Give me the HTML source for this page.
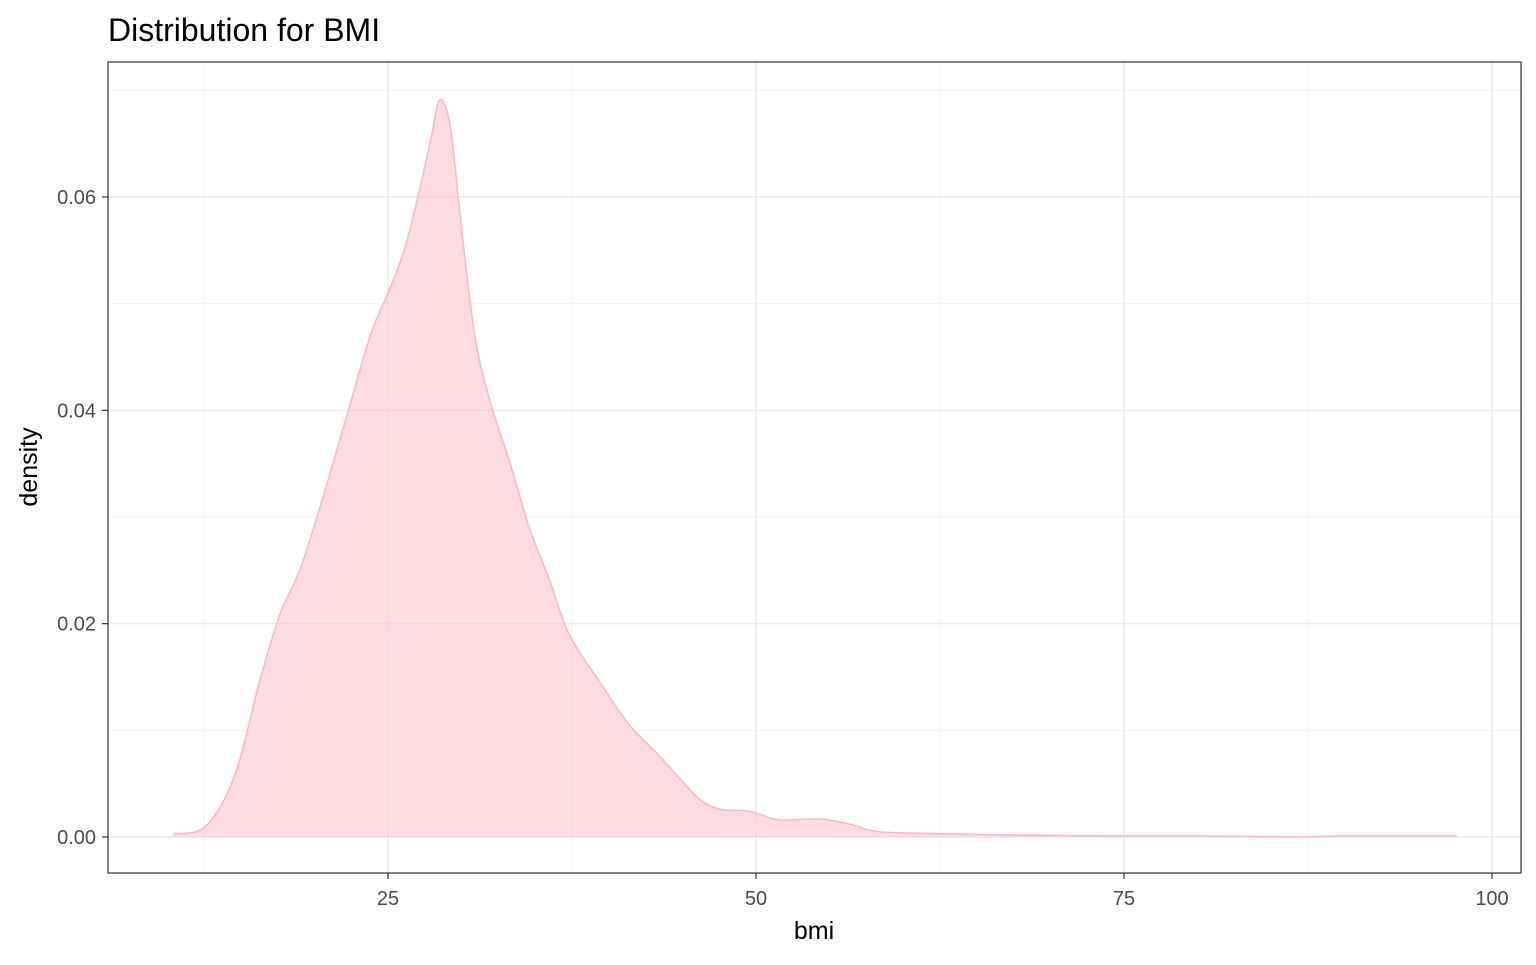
<!DOCTYPE html>
<html><head><meta charset="utf-8"><style>
body{margin:0;background:#fff;}
svg text{font-family:"Liberation Sans",Arial,sans-serif;}
</style></head><body>
<svg id="chart" width="1536" height="960" xmlns="http://www.w3.org/2000/svg">
<text x="108" y="41" font-size="32" fill="#000">Distribution for BMI</text>
<g id="grid"></g>
<path id="area" fill="#FFC0CB" fill-opacity="0.55" stroke="none"/>
<path id="line" fill="none" stroke="#FFB6C1" stroke-width="1.5"/>
<rect x="108" y="62" width="1413" height="811" fill="none" stroke="#333" stroke-width="1.2"/>
<g id="axes"></g>
<text x="814" y="939" font-size="25" text-anchor="middle" fill="#000">bmi</text>
<text transform="translate(37,467) rotate(-90)" font-size="25" text-anchor="middle" fill="#000">density</text>
</svg>
<script>
const bmi=[10.4,12.6,14.6,16.3,17.7,19.0,20.4,22.1,23.8,25,26.1,27.2,28.0,28.4,28.8,29.3,30.0,30.9,31.9,33.3,34.6,36.0,37.3,39.4,41.4,43.5,44.8,46.2,47.6,49.6,51.6,54.3,56.4,58.4,63.2,66.6,75,80,87,89.7,97.6];
const density=[0.0003,0.001,0.0058,0.0147,0.021,0.025,0.031,0.039,0.047,0.051,0.055,0.061,0.066,0.0688,0.0688,0.066,0.057,0.047,0.041,0.035,0.029,0.024,0.019,0.0145,0.0105,0.0075,0.0055,0.0035,0.0026,0.0024,0.0016,0.0017,0.0012,0.0005,0.0003,0.0002,0.0001,0.0001,0.0,0.0001,0.0001];
const xTicks=[25,50,75,100];
const xMinor=[12.5,37.5,62.5,87.5];
const yTicks=[0,0.02,0.04,0.06];
const yMinor=[0.01,0.03,0.05,0.07];
const X=v=>388+(v-25)*14.72;
const Y=v=>837-v*10667;
const NS="http://www.w3.org/2000/svg";
const grid=document.getElementById('grid'),axes=document.getElementById('axes');
function ln(p,x1,y1,x2,y2,c,w,n){const l=document.createElementNS(NS,'line');
l.setAttribute('x1',x1);l.setAttribute('y1',y1);l.setAttribute('x2',x2);l.setAttribute('y2',y2);
l.setAttribute('stroke',c);l.setAttribute('stroke-width',w);


p.appendChild(l);}
function tx(x,y,s,a,n){const t=document.createElementNS(NS,'text');
t.setAttribute('x',x);t.setAttribute('y',y);t.setAttribute('font-size','20');t.setAttribute('fill','#4d4d4d');t.setAttribute('text-anchor',a);t.textContent=s;


axes.appendChild(t);}
xMinor.forEach(v=>ln(grid,X(v),62,X(v),873,'#f2f2f2',1,'x-minor-grid'));
yMinor.forEach(v=>ln(grid,108,Y(v),1521,Y(v),'#f2f2f2',1,'y-minor-grid'));
xTicks.forEach(v=>{ln(grid,X(v),62,X(v),873,'#ebebeb',1.5,'x-major-grid');ln(axes,X(v),873,X(v),879,'#333',1.2,'x-tick');tx(X(v),905,String(v),'middle','x-tick-label');});
yTicks.forEach(v=>{ln(grid,108,Y(v),1521,Y(v),'#ebebeb',1.5,'y-major-grid');ln(axes,102,Y(v),108,Y(v),'#333',1.2,'y-tick');tx(96,Y(v)+7,v.toFixed(2),'end','y-tick-label');});
const P=bmi.map((b,i)=>[X(b),Y(density[i])]);
let c='M'+P[0][0].toFixed(1)+','+P[0][1].toFixed(1);
for(let i=0;i<P.length-1;i++){
 const p0=P[Math.max(i-1,0)],p1=P[i],p2=P[i+1],p3=P[Math.min(i+2,P.length-1)];
 const c1=[p1[0]+(p2[0]-p0[0])/6,p1[1]+(p2[1]-p0[1])/6];
 const c2=[p2[0]-(p3[0]-p1[0])/6,p2[1]-(p3[1]-p1[1])/6];
 c+=' C'+c1[0].toFixed(1)+','+c1[1].toFixed(1)+' '+c2[0].toFixed(1)+','+c2[1].toFixed(1)+' '+p2[0].toFixed(1)+','+p2[1].toFixed(1);
}
document.getElementById('line').setAttribute('d',c);
document.getElementById('area').setAttribute('d','M'+X(bmi[0])+','+Y(0)+' L'+c.slice(1)+' L'+X(bmi[bmi.length-1])+','+Y(0)+' Z');
</script>
</body></html>
